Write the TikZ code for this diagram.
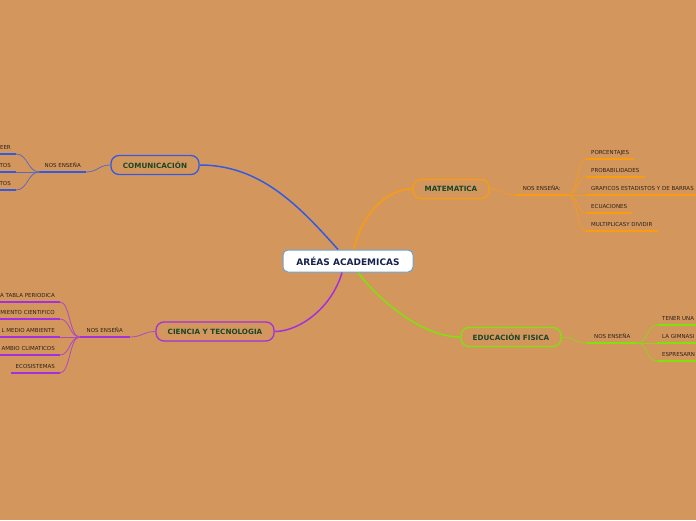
\documentclass[tikz,border=0pt]{standalone}
\usepackage{fontspec}
\setmainfont{DejaVu Sans}
\usetikzlibrary{positioning}
\definecolor{fondo}{RGB}{211,151,94}
\definecolor{azul}{RGB}{52,90,226}
\definecolor{naranja}{RGB}{250,156,18}
\definecolor{morado}{RGB}{162,48,222}
\definecolor{verde}{RGB}{128,226,12}
\definecolor{bordec}{RGB}{104,162,212}
\definecolor{azulosc}{RGB}{22,34,78}
\definecolor{verdeosc}{RGB}{24,70,40}
\definecolor{texto}{RGB}{45,32,20}

\begin{document}
\begin{tikzpicture}[x=1pt, y=-1pt,
        central/.style={draw=bordec, fill=white, rounded corners=5pt, line width=1pt,
            minimum width=130pt, minimum height=22pt, text=azulosc,
            font=\fontsize{9}{10}\selectfont\bfseries},
        rama/.style={draw=#1, rounded corners=8pt, line width=1.3pt, minimum height=19pt,
            text=verdeosc, font=\fontsize{7.2}{8}\selectfont\bfseries},
        hoja/.style={inner xsep=5pt, inner ysep=4pt, text height=4pt, text depth=0pt,
            text=texto, font=\fontsize{5.5}{6.5}\selectfont},
        subrayado/.style={draw=#1, line width=2pt},
        enlace/.style={draw=#1, line width=1.5pt},
        ramita/.style={draw=#1!75!fondo, line width=0.8pt},
    ]
    \fill[fondo] (0,0) rectangle (696,520);
    \useasboundingbox (0,0) rectangle (696,520);

    % centro y ramas
    \node[central] (ac) at (348,261) {ARÉAS ACADEMICAS};
    \node[rama=azul, minimum width=88pt] (com) at (155,165) {COMUNICACIÓN};
    \node[rama=naranja, minimum width=76pt] (mat) at (451,189) {MATEMATICA};
    \node[rama=morado, minimum width=118pt] (cie) at (215,331.5) {CIENCIA Y TECNOLOGIA};
    \node[rama=verde, minimum width=100pt] (edu) at (511,337) {EDUCACIÓN FISICA};

    \draw[enlace=azul] ([xshift=-10pt]ac.north) .. controls +(-40,-45) and +(60,0) .. (com.east);
    \draw[enlace=naranja] ([xshift=6pt]ac.north) .. controls +(4,-23) and +(-33,0) .. (mat.west);
    \draw[enlace=morado] ([xshift=-6pt]ac.south) .. controls +(-10,35) and +(25,0) .. (cie.east);
    \draw[enlace=verde] ([xshift=10pt]ac.south) .. controls +(17,23) and +(-41,0) .. (edu.west);

    % nos enseña
    \node[hoja, minimum width=46pt, anchor=south east] (cn) at (86,172) {NOS ENSEÑA};
    \node[hoja, minimum width=53pt, anchor=south west] (mn) at (515,195) {NOS ENSEÑA:};
    \node[hoja, minimum width=50pt, anchor=south east] (sn) at (130,337) {NOS ENSEÑA};
    \node[hoja, minimum width=50pt, anchor=south west] (en) at (587,343) {NOS ENSEÑA};
    \foreach \n/\c in {cn/azul, mn/naranja, sn/morado, en/verde}
        \draw[subrayado=\c] (\n.south west) -- (\n.south east);

    \draw[ramita=azul] (com.west) .. controls +(-12,0) and +(12,0) .. (cn.south east);
    \draw[ramita=naranja] (mat.east) .. controls +(12,0) and +(-12,0) .. (mn.south west);
    \draw[ramita=morado] (cie.west) .. controls +(-12,0) and +(12,0) .. (sn.south east);
    \draw[ramita=verde] (edu.east) .. controls +(12,0) and +(-12,0) .. (en.south west);

    % hojas
    \foreach \i/\y/\t in {1/154/EER, 2/172/TOS, 3/190/TOS} {
        \node[hoja, anchor=south east] (c\i) at (16,\y) {\t};
        \draw[subrayado=azul] (c\i.south west) -- (c\i.south east);
        \draw[ramita=azul] (cn.south west) .. controls +(-12,0) and +(12,0) .. (c\i.south east);
    }
    \foreach \i/\y/\t in {1/159/PORCENTAJES, 2/177/PROBABILIDADES,
            3/195/GRAFICOS ESTADISTOS Y DE BARRAS, 4/213/ECUACIONES,
            5/231/MULTIPLICASY DIVIDIR} {
        \node[hoja, anchor=south west] (m\i) at (586,\y) {\t};
        \draw[subrayado=naranja] (m\i.south west) -- (m\i.south east);
        \draw[ramita=naranja] (mn.south east) .. controls +(9,0) and +(-9,0) .. (m\i.south west);
    }
    \foreach \i/\y/\t in {1/302/A TABLA PERIODICA, 2/319/MIENTO CIENTIFICO,
            3/337/L MEDIO AMBIENTE, 4/355/AMBIO CLIMATICOS, 5/373/ECOSISTEMAS} {
        \node[hoja, anchor=south east] (s\i) at (60,\y) {\t};
        \draw[subrayado=morado] (s\i.south west) -- (s\i.south east);
        \draw[ramita=morado] (sn.south west) .. controls +(-10,0) and +(10,0) .. (s\i.south east);
    }
    \foreach \i/\y/\t in {1/325/TENER UNA, 2/343/LA GIMNASI, 3/361/ESPRESARN} {
        \node[hoja, anchor=south west] (e\i) at (657,\y) {\t};
        \draw[subrayado=verde] (e\i.south west) -- (e\i.south east);
        \draw[ramita=verde] (en.south east) .. controls +(10,0) and +(-10,0) .. (e\i.south west);
    }
\end{tikzpicture}
\end{document}
